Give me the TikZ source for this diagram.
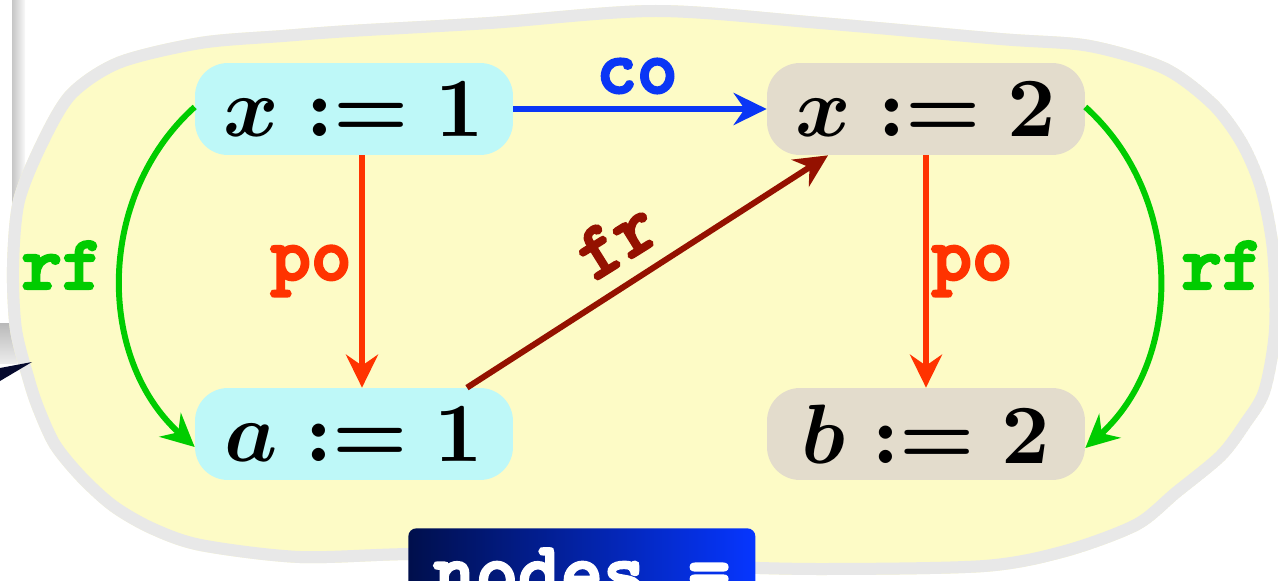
\documentclass[tikz,border=0pt]{standalone}
\usepackage{fontspec}
\newfontfamily\lblfont[Extension=.otf,FakeBold=3]{lmmonolt10-bold}
\usetikzlibrary{arrows.meta}
% scalable bold math, so the big labels keep their size
\DeclareFontShape{OML}{cmm}{b}{it}{<->cmmib10}{}
\DeclareFontShape{OT1}{cmr}{bx}{n}{<->cmbx10}{}
\DeclareFontShape{OMS}{cmsy}{b}{n}{<->cmbsy10}{}
\DeclareFontShape{OML}{cmm}{m}{it}{<->cmmi10}{}
\DeclareFontShape{OT1}{cmr}{m}{n}{<->cmr10}{}
\DeclareFontShape{OMS}{cmsy}{m}{n}{<->cmsy10}{}
\definecolor{blobyellow}{HTML}{FDFBC6}
\definecolor{blobrim}{HTML}{E8E8E8}
\definecolor{readcyan}{HTML}{BEF8F8}
\definecolor{writetan}{HTML}{E3DCCC}
\definecolor{cocol}{HTML}{0A36F5}
\definecolor{pocol}{HTML}{FF3300}
\definecolor{rfcol}{HTML}{00CC00}
\definecolor{frcol}{HTML}{941100}
\definecolor{navyleft}{HTML}{000F4C}
\definecolor{blueright}{HTML}{0636FF}
\definecolor{wedgecol}{HTML}{060A2E}

\begin{document}
\begin{tikzpicture}[x=0.02cm,y=-0.02cm,>={Stealth[length=0.66cm,width=0.64cm,inset=0.22cm]},
		event/.style={rounded corners=0.66cm,minimum width=6.36cm,minimum height=1.84cm,inner sep=0pt,
			font=\fontsize{48}{54}\selectfont\boldmath},
		rel/.style={->,line width=3.4pt},
		lbl/.style={font=\fontsize{44}{48}\selectfont\lblfont}]
			\useasboundingbox (0,0) rectangle (1278,581);
			\fill[white] (0,0) rectangle (1278,581);
			\clip (0,0) rectangle (1278,581);
			% bits of the slide behind
			\shade[left color=gray!45,right color=gray!5] (12,0) rectangle (25,300);
			\shade[top color=gray!55,bottom color=gray!15] (0,323) rectangle (17,363);
			% the blob
			\begin{scope}
			\clip plot[smooth cycle] coordinates {(656,5) (820,17) (1000,33) (1090,40) (1167,63) (1217,100)
				(1247,140) (1267,187) (1279,250) (1281,330) (1270,393) (1250,427) (1225,460) (1180,497)
				(1139,530) (1066,557) (984,572) (820,575) (700,572) (560,566) (420,560) (300,563) (200,551)
				(150,534) (110,511) (77,481) (50,448) (33,411) (23,381) (10,330) (7,267) (13,200) (37,140)
				(67,90) (117,57) (200,37) (283,30) (350,25) (490,17)};
			\draw[draw=blobrim,fill=blobyellow,line width=0.48cm] plot[smooth cycle] coordinates {(656,5) (820,17) (1000,33) (1090,40) (1167,63) (1217,100)
				(1247,140) (1267,187) (1279,250) (1281,330) (1270,393) (1250,427) (1225,460) (1180,497)
				(1139,530) (1066,557) (984,572) (820,575) (700,572) (560,566) (420,560) (300,563) (200,551)
				(150,534) (110,511) (77,481) (50,448) (33,411) (23,381) (10,330) (7,267) (13,200) (37,140)
				(67,90) (117,57) (200,37) (283,30) (350,25) (490,17)};
			\end{scope}
			\fill[wedgecol] (0,368) -- (32,362) -- (0,381) -- cycle;
			% events
			\node[event,fill=readcyan] (x1) at (354,109) {$x := 1$};
			\node[event,fill=writetan] (x2) at (926,109) {$x := 2$};
			\node[event,fill=readcyan] (a1) at (354,434) {$a := 1$};
			\node[event,fill=writetan] (b2) at (926,434) {$b := 2$};
			% relations
			\draw[rel,cocol] (x1) -- (x2);
			\draw[rel,pocol] ([xshift=0.16cm]x1.south) -- ([xshift=0.16cm]a1.north);
			\draw[rel,pocol] (x2) -- (b2);
			\draw[rel,frcol] ([xshift=2.26cm]a1.north) -- ([xshift=-1.96cm]x2.south);
			\draw[rel,rfcol] ([yshift=0.04cm]x1.west) to[bend right=48] ([yshift=-0.26cm]a1.west);
			\draw[rel,rfcol] ([yshift=0.04cm]x2.east) to[bend left=48] ([yshift=-0.28cm]b2.east);
			\node[lbl,text=cocol] (co) at (637,76) {co};
			\node[lbl,text=pocol] (po1) at (311,271) {po};
			\node[lbl,text=pocol] (po2) at (972,271) {po};
			\node[lbl,text=rfcol] (rf1) at (62,265) {rf};
			\node[lbl,text=rfcol] (rf2) at (1222,265) {rf};
			\node[lbl,text=frcol,rotate=32] (fr) at (616,240) {fr};
			% legend box, cut off below
			\node[anchor=north west,rounded corners=0.16cm,left color=navyleft,right color=blueright,text=white,
				inner xsep=0.5cm,inner ysep=0.4cm,font=\fontsize{46}{50}\selectfont\lblfont] (legend) at (408,528) {nodes =};
\end{tikzpicture}
\end{document}
